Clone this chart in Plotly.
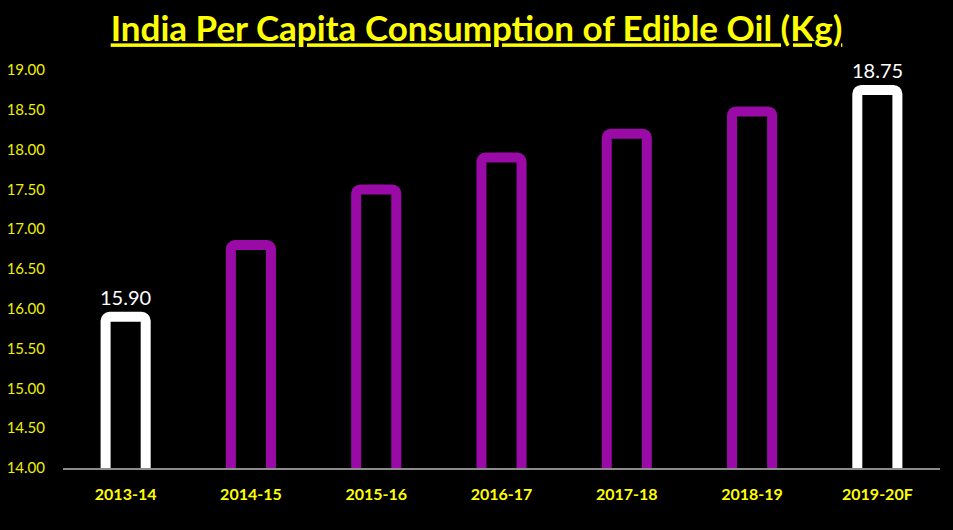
import plotly.graph_objects as go

categories = ["2013-14", "2014-15", "2015-16", "2016-17", "2017-18", "2018-19", "2019-20F"]
values = [15.90, 16.80, 17.50, 17.90, 18.20, 18.48, 18.75]
bar_labels = ["15.90", "", "", "", "", "", "18.75"]
y_ticks = [14.0, 14.5, 15.0, 15.5, 16.0, 16.5, 17.0, 17.5, 18.0, 18.5, 19.0]

WHITE = "#FFFFFF"
PURPLE = "#9A0AA6"
line_colors = [WHITE, PURPLE, PURPLE, PURPLE, PURPLE, PURPLE, WHITE]

fig = go.Figure()
fig.add_trace(go.Bar(
    x=categories,
    y=values,
    marker=dict(color="#000000", line=dict(color=line_colors, width=10), cornerradius=4),
    hoverinfo="skip",
))

for cat, val, lab in zip(categories, values, bar_labels):
    if lab:
        fig.add_annotation(
            x=cat, y=val, text=lab, showarrow=False,
            yanchor="bottom", yshift=6,
            font=dict(family="Lato, sans-serif", size=20, color=WHITE),
        )

fig.update_layout(
    width=953, height=530,
    paper_bgcolor="#000000", plot_bgcolor="#000000",
    margin=dict(l=63, r=13, t=70, b=62),
    bargap=0.68,
    showlegend=False,
    title=dict(
        text="<b><u>India Per Capita Consumption of Edible Oil (Kg)</u></b>",
        x=0.5, xanchor="center", y=0.945, yanchor="middle",
        font=dict(family="Lato, sans-serif", size=35, color="#FFFF00"),
    ),
)
fig.update_xaxes(
    showgrid=False, showline=True, linecolor="#8C8C8C", linewidth=1.5,
    ticks="", automargin=False,
    tickfont=dict(family="Lato, sans-serif", size=16, color="#FFFF00", weight="bold"),
    ticklabelstandoff=11,
)
fig.update_yaxes(
    range=[14, 19], tickvals=y_ticks, tickformat=".2f",
    showgrid=False, showline=False, zeroline=False, ticks="", automargin=False,
    tickfont=dict(family="Lato, sans-serif", size=15, color="#F0F000"),
    ticklabelstandoff=17,
)

fig.write_html("out.html")
